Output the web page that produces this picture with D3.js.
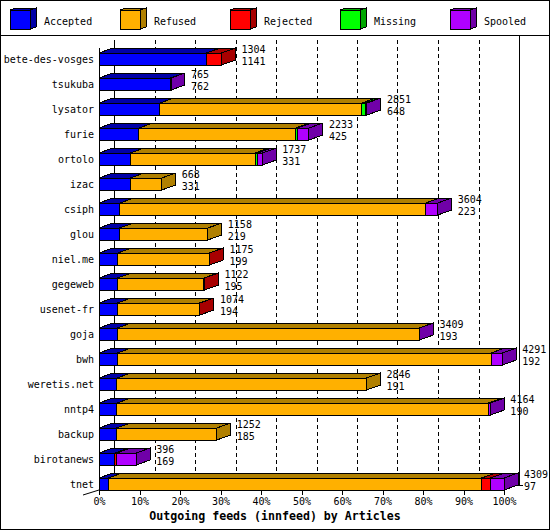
<!DOCTYPE html>
<html>
<head>
<meta charset="utf-8">
<script src="https://cdn.jsdelivr.net/npm/d3@7"></script>
<style>
  html, body { margin: 0; padding: 0; background: #fff; }
  svg { display: block; }
  text { font-family: "DejaVu Sans Mono", "Liberation Mono", monospace; }
</style>
</head>
<body>
<svg id="chart" width="550" height="530"></svg>
<script>
// ---- data ----
const categories = ["bete-des-vosges","tsukuba","lysator","furie","ortolo","izac","csiph","glou","niel.me","gegeweb","usenet-fr","goja","bwh","weretis.net","nntp4","backup","birotanews","tnet"];
const totals   = [1304, 765, 2851, 2233, 1737, 668, 3604, 1158, 1175, 1122, 1074, 3409, 4291, 2846, 4164, 1252, 396, 4309];
const accepted = [1141, 762, 648, 425, 331, 331, 223, 219, 199, 195, 194, 193, 192, 191, 190, 185, 169, 97];
const refused  = [0, 0, 2150, 1668, 1329, 337, 3253, 939, 973, 922, 875, 3213, 3979, 2655, 3952, 1067, 0, 3974];
const rejected = [163, 0, 0, 0, 0, 0, 0, 0, 3, 5, 5, 0, 0, 0, 0, 0, 20, 92];
const missing  = [0, 0, 38, 20, 28, 0, 0, 0, 0, 0, 0, 0, 0, 0, 0, 0, 0, 0];
const spooled  = [0, 3, 15, 120, 49, 0, 128, 0, 0, 0, 0, 3, 120, 0, 22, 0, 207, 146];
const seriesNames = ["Accepted","Refused","Rejected","Missing","Spooled"];
const frontColors = ["#0000ff","#ffb000","#ff0000","#00ff00","#b000ff"];
const darkColors  = ["#0000a8","#b08000","#a80000","#00a800","#7000a8"];
const tickValues = [0,10,20,30,40,50,60,70,80,90,100];
const tickLabels = ["0%","10%","20%","30%","40%","50%","60%","70%","80%","90%","100%"];
const title = "Outgoing feeds (innfeed) by Articles";

const seriesValues = [accepted, refused, rejected, missing, spooled];

// ---- layout ----
const svg = d3.select("#chart");
const W = 550, H = 530;
const DX = 14, DY = 5, GDX = 15;
const barH = 12;

const xPct = d3.scaleLinear().domain([0, 100]).range([99, 504]);
const x = d3.scaleLinear().domain([0, d3.max(totals)]).range([99, 504]);
const y = d3.scaleBand().domain(categories).range([46.5, 496.5]);
const cy = c => Math.round(y(c) + y.bandwidth() / 2);

// outer frame & legend separator
svg.append("rect").attr("x", 0.5).attr("y", 0.5).attr("width", W - 1).attr("height", H - 1)
  .attr("fill", "#fff").attr("stroke", "#000").attr("shape-rendering", "crispEdges");
svg.append("line").attr("x1", 0).attr("x2", W).attr("y1", 35.5).attr("y2", 35.5)
  .attr("stroke", "#000").attr("shape-rendering", "crispEdges");

// legend
const leg = svg.append("g");
seriesNames.forEach((name, i) => {
  const lx = 10 + i * 110, ly = 10, lw = 20, lh = 19, ldx = 6, ldy = 2;
  const g = leg.append("g").attr("shape-rendering", "crispEdges");
  g.append("polygon")
    .attr("points", [[lx, ly], [lx + lw, ly], [lx + lw + ldx, ly - ldy], [lx + ldx, ly - ldy]].join(" "))
    .attr("fill", darkColors[i]).attr("stroke", "#000");
  g.append("polygon")
    .attr("points", [[lx + lw, ly], [lx + lw + ldx, ly - ldy], [lx + lw + ldx, ly + lh - ldy], [lx + lw, ly + lh]].join(" "))
    .attr("fill", darkColors[i]).attr("stroke", "#000");
  g.append("rect").attr("x", lx).attr("y", ly).attr("width", lw).attr("height", lh)
    .attr("fill", frontColors[i]).attr("stroke", "#000");
  leg.append("text").attr("x", lx + 34).attr("y", 25).attr("font-size", "10px")
    .attr("fill", "#000").text(name);
});

// back plane grid lines
const grid = svg.append("g").attr("shape-rendering", "crispEdges");
tickValues.forEach((t, i) => {
  const gx = Math.round(xPct(t) + GDX) + 0.5;
  const solid = (i === 0 || i === tickValues.length - 1);
  grid.append("line")
    .attr("x1", gx).attr("x2", gx)
    .attr("y1", solid && i > 0 ? 36 : 40).attr("y2", 485)
    .attr("stroke", "#000")
    .attr("stroke-dasharray", solid ? null : "4,3");
});
// floor back line
grid.append("line").attr("x1", xPct(0) + GDX).attr("x2", 523).attr("y1", 485.5).attr("y2", 485.5).attr("stroke", "#000");
// left front axis
grid.append("line").attr("x1", 99.5).attr("x2", 99.5).attr("y1", 48).attr("y2", 490).attr("stroke", "#000");
// floor left edge
svg.append("line").attr("x1", 83).attr("y1", 495).attr("x2", 99).attr("y2", 490).attr("stroke", "#000");

// bars
const bars = svg.append("g");
categories.forEach((c, r) => {
  const yc = cy(c);
  const top = yc - barH / 2, bottom = yc + barH / 2;
  const g = bars.append("g").attr("shape-rendering", "crispEdges");
  let cum = 0;
  const segs = [];
  seriesValues.forEach((vals, s) => {
    const v = vals[r];
    if (v > 0) {
      segs.push({ s, x0: x(cum), x1: x(cum + v) });
    }
    cum += v;
  });
  // top faces
  segs.forEach(sg => {
    g.append("polygon")
      .attr("points", [[sg.x0, top], [sg.x1, top], [sg.x1 + DX, top - DY], [sg.x0 + DX, top - DY]].join(" "))
      .attr("fill", darkColors[sg.s]).attr("stroke", "#000").attr("stroke-width", 1);
  });
  // side face
  const last = segs[segs.length - 1];
  g.append("polygon")
    .attr("points", [[last.x1, top], [last.x1 + DX, top - DY], [last.x1 + DX, bottom - DY], [last.x1, bottom]].join(" "))
    .attr("fill", darkColors[last.s]).attr("stroke", "#000");
  // front faces
  segs.forEach(sg => {
    g.append("rect")
      .attr("x", sg.x0).attr("y", top)
      .attr("width", Math.max(sg.x1 - sg.x0, 0.5)).attr("height", barH)
      .attr("fill", frontColors[sg.s]).attr("stroke", "#000");
  });
  // category label
  svg.append("text").attr("x", 94).attr("y", yc + 3.7).attr("text-anchor", "end")
    .attr("font-size", "10px").attr("fill", "#000").text(c);
  // value labels
  const lx = x(totals[r]) + DX + 6;
  svg.append("text").attr("x", lx).attr("y", top - 0.5).attr("font-size", "10px").attr("fill", "#000").text(totals[r]);
  svg.append("text").attr("x", lx).attr("y", bottom).attr("font-size", "10px").attr("fill", "#000").text(accepted[r]);
});

// bottom axis
const axis = d3.axisBottom(xPct).tickValues(tickValues)
  .tickFormat((d, i) => tickLabels[i]).tickSize(5).tickPadding(3);
const ax = svg.append("g").attr("transform", "translate(0,490)").call(axis);
ax.select(".domain").remove();
ax.selectAll("line").attr("stroke", "#000").attr("shape-rendering", "crispEdges");
ax.selectAll("text").attr("font-size", "10px").attr("fill", "#000")
  .attr("font-family", "DejaVu Sans Mono, monospace");

// title
svg.append("text").attr("x", 275).attr("y", 520).attr("text-anchor", "middle")
  .attr("font-size", "11.6px").attr("font-weight", "bold").attr("fill", "#000").text(title);
</script>
</body>
</html>
